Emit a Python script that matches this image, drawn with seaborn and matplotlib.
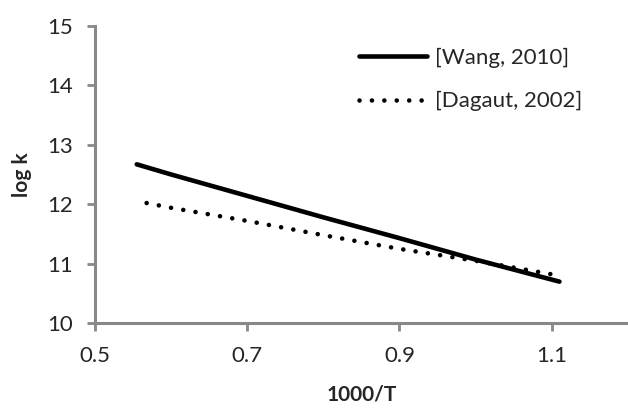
import pandas as pd
import seaborn as sns
import matplotlib
matplotlib.use('Agg')
import matplotlib.pyplot as plt

# values
wang_x = [0.555, 0.6, 0.7, 0.8, 0.9, 1.0, 1.11]
wang_y = [12.67, 12.50, 12.14, 11.78, 11.43, 11.07, 10.70]
dagaut_x = [0.568, 0.6, 0.7, 0.8, 0.9, 1.0, 1.11]
dagaut_y = [12.02, 11.94, 11.72, 11.48, 11.25, 11.05, 10.80]
labels = ["[Wang, 2010]", "[Dagaut, 2002]"]

df = pd.concat([
    pd.DataFrame({"x": wang_x, "y": wang_y, "src": labels[0]}),
    pd.DataFrame({"x": dagaut_x, "y": dagaut_y, "src": labels[1]}),
])

sns.set_style("white")
plt.rcParams['font.family'] = ['Lato', 'DejaVu Sans']

fig = plt.figure(figsize=(6.28, 4.09), dpi=100)
ax = fig.add_axes([0.151, 0.2095, 0.849, 0.728])

sns.lineplot(data=df, x="x", y="y", hue="src", style="src",
             palette=["black", "black"], dashes=[(None, None), (0.01, 2.7)],
             linewidth=3.3, ax=ax, sort=True, legend=True)
for ln in ax.get_lines():
    ln.set_dash_capstyle('round')
    ln.set_solid_capstyle('round')

ax.set_xlim(0.5, 1.2)
ax.set_ylim(10, 15)
ax.set_xticks([0.5, 0.7, 0.9, 1.1])
ax.set_xticklabels(["0.5", "0.7", "0.9", "1.1"])
ax.set_yticks([10, 11, 12, 13, 14, 15])

for s in ["top", "right"]:
    ax.spines[s].set_visible(False)
for s in ["left", "bottom"]:
    ax.spines[s].set_color("#888888")
    ax.spines[s].set_linewidth(2.2)
ax.tick_params(axis="both", direction="out", length=6, width=2, color="#888888",
               labelsize=16, bottom=True, left=True)
ax.tick_params(axis="x", pad=10)
ax.tick_params(axis="y", pad=10)

ax.set_xlabel("1000/T", fontsize=15, fontweight="bold", labelpad=14)
ax.set_ylabel("log k", fontsize=15, fontweight="bold", labelpad=11)

leg = ax.legend(loc="upper right", bbox_to_anchor=(0.93, 0.955), frameon=False,
                fontsize=16, handlelength=3.05, handletextpad=0.35, labelspacing=1.05,
                borderaxespad=0)
for h in leg.get_lines():
    h.set_linewidth(3.3)

fig.savefig("out.png", dpi=100)
